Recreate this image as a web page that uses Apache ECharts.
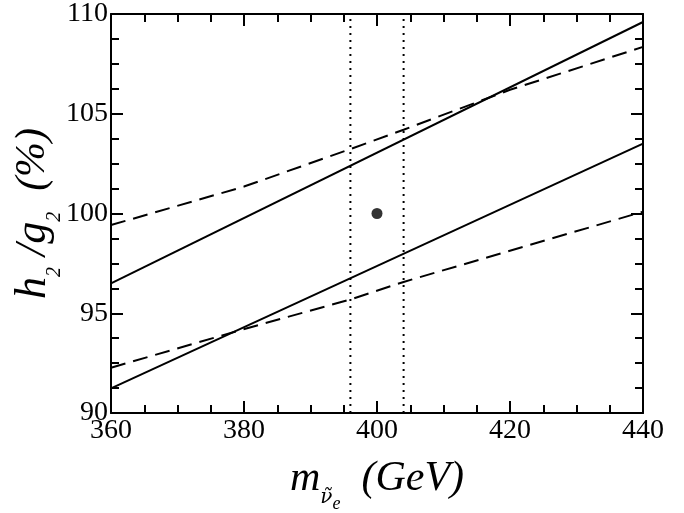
<!DOCTYPE html>
<html>
<head>
<meta charset="utf-8">
<script src="https://cdn.jsdelivr.net/npm/echarts@6/dist/echarts.min.js"></script>
<style>html,body{margin:0;padding:0;background:#fff}#c{width:684px;height:513px}</style>
</head>
<body>
<div id="c"></div>
<script>
// Data
var xTicks = [360, 380, 400, 420, 440];
var yTicks = [90, 95, 100, 105, 110];
var upperSolidX = [360, 440];
var upperSolidY = [96.5, 109.6];
var lowerSolidX = [360, 440];
var lowerSolidY = [91.23, 103.5];
var upperDashedX = [360, 380, 396, 404, 420, 440];
var upperDashedY = [99.42, 101.35, 103.23, 104.2, 106.2, 108.35];
var lowerDashedX = [360, 379.4, 396, 404, 440];
var lowerDashedY = [92.27, 94.15, 95.69, 96.57, 100.09];
var dottedX = [396, 404];
var centralPoint = [400, 100];

function pairs(xs, ys) { return xs.map(function (x, i) { return [x, ys[i]]; }); }

var serif = 'Liberation Serif';
var chart = echarts.init(document.getElementById('c'));

var series = [];
series.push({ type: 'line', data: pairs(upperSolidX, upperSolidY), symbol: 'none',
  lineStyle: { color: '#000', width: 2 } });
series.push({ type: 'line', data: pairs(lowerSolidX, lowerSolidY), symbol: 'none',
  lineStyle: { color: '#000', width: 2 } });
series.push({ type: 'line', data: pairs(upperDashedX, upperDashedY), symbol: 'none',
  lineStyle: { color: '#000', width: 2, type: [15, 8] } });
series.push({ type: 'line', data: pairs(lowerDashedX, lowerDashedY), symbol: 'none',
  lineStyle: { color: '#000', width: 2, type: [15, 8] } });
dottedX.forEach(function (x) {
  series.push({ type: 'line', data: [[x, yTicks[0]], [x, yTicks[yTicks.length - 1]]], symbol: 'none',
    lineStyle: { color: '#000', width: 2, type: [2, 5] } });
});
series.push({ type: 'scatter', data: [centralPoint], symbolSize: 11, itemStyle: { color: '#000' } });

function axisCommon() {
  return {
    axisLine: { lineStyle: { color: '#000', width: 2 } },
    axisTick: { show: true, inside: true, length: 12, lineStyle: { color: '#000', width: 2 } },
    minorTick: { show: true, splitNumber: 4, length: 8, lineStyle: { color: '#000', width: 2 } },
    splitLine: { show: false }
  };
}

var xb = Object.assign(axisCommon(), {
  type: 'value', min: xTicks[0], max: xTicks[xTicks.length - 1], interval: 20, position: 'bottom',
  axisLabel: { color: '#000', fontFamily: serif, fontSize: 28, margin: 4 },
  name: '{m|m}{s|ν̃}{e|e}{p|  (GeV)}', nameLocation: 'middle', nameGap: 45, nameMoveOverlap: false,
  nameTextStyle: { rich: {
    m: { fontFamily: serif, fontStyle: 'italic', fontSize: 42, color: '#000' },
    s: { fontFamily: 'DejaVu Serif', fontStyle: 'italic', fontSize: 20, color: '#000', verticalAlign: 'bottom', padding: [0, 0, -8, 0] },
    e: { fontFamily: serif, fontStyle: 'italic', fontSize: 18, color: '#000', verticalAlign: 'bottom', padding: [0, 0, -13, 0] },
    p: { fontFamily: serif, fontStyle: 'italic', fontSize: 42, color: '#000' }
  } }
});
var xt = Object.assign(axisCommon(), {
  type: 'value', min: xTicks[0], max: xTicks[xTicks.length - 1], interval: 20, position: 'top',
  axisLabel: { show: false }
});
var yl = Object.assign(axisCommon(), {
  type: 'value', min: yTicks[0], max: yTicks[yTicks.length - 1], interval: 5, position: 'left',
  axisLabel: { color: '#000', fontFamily: serif, fontSize: 28, margin: 3 },
  name: '{h|h}{s|2}{sl| /}{h|g}{s|2}{p|  (%)}', nameLocation: 'middle', nameGap: 56, nameRotate: 90,
  nameMoveOverlap: false,
  nameTextStyle: { rich: {
    h: { fontFamily: serif, fontStyle: 'italic', fontSize: 44, color: '#000' },
    sl: { fontFamily: serif, fontStyle: 'italic', fontSize: 44, color: '#000' },
    s: { fontFamily: serif, fontStyle: 'italic', fontSize: 20, color: '#000', verticalAlign: 'bottom', padding: [0, 0, -10, 0] },
    p: { fontFamily: serif, fontStyle: 'italic', fontSize: 42, color: '#000' }
  } }
});
var yr = Object.assign(axisCommon(), {
  type: 'value', min: yTicks[0], max: yTicks[yTicks.length - 1], interval: 5, position: 'right',
  axisLabel: { show: false }
});

chart.setOption({
  animation: false,
  backgroundColor: '#fff',
  grid: { left: 111, right: 41, top: 14, bottom: 100, containLabel: false, outerBoundsMode: 'none' },
  xAxis: [xb, xt],
  yAxis: [yl, yr],
  series: series
});
</script>
</body>
</html>
